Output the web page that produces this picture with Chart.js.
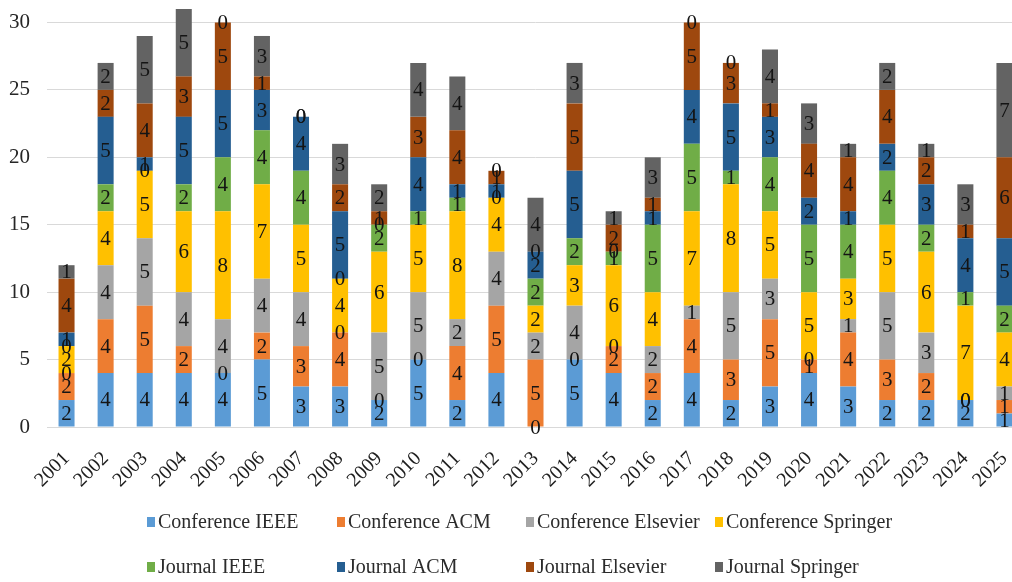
<!DOCTYPE html>
<html>
<head>
<meta charset="utf-8">
<script src="https://cdn.jsdelivr.net/npm/chart.js@4/dist/chart.umd.min.js"></script>
<style>
  html, body { margin: 0; padding: 0; background: #fff; overflow: hidden; }
  #wrap { width: 1024px; height: 582px; }
</style>
</head>
<body>
<div id="wrap"><canvas id="c" width="1024" height="582"></canvas></div>
<script>
// Publications per year, split by venue type and publisher
const years = ['2001','2002','2003','2004','2005','2006','2007','2008','2009','2010','2011','2012','2013',
               '2014','2015','2016','2017','2018','2019','2020','2021','2022','2023','2024','2025'];
const conferenceIEEE      = [2,4,4,4,4,5,3,3,2,5,2,4,0,5,4,2,4,2,3,4,3,2,2,2,1];
const conferenceACM       = [2,4,5,2,0,2,3,4,0,0,4,5,5,0,2,2,4,3,5,1,4,3,2,0,1];
const conferenceElsevier  = [0,4,5,4,4,4,4,0,5,5,2,4,2,4,0,2,1,5,3,0,1,5,3,0,1];
const conferenceSpringer  = [2,4,5,6,8,7,5,4,6,5,8,4,2,3,6,4,7,8,5,5,3,5,6,7,4];
const journalIEEE         = [0,2,0,2,4,4,4,0,2,1,1,0,2,2,1,5,5,1,4,5,4,4,2,1,2];
const journalACM          = [1,5,1,5,5,3,4,5,0,4,1,1,2,5,0,1,4,5,3,2,1,2,3,4,5];
const journalElsevier     = [4,2,4,3,5,1,0,2,1,3,4,1,0,5,2,1,5,3,1,4,4,4,2,1,6];
const journalSpringer     = [1,2,5,5,0,3,0,3,2,4,4,0,4,3,1,3,0,0,4,3,1,2,1,3,7];
const yTicks = [0, 5, 10, 15, 20, 25, 30];

const seriesNames  = ['Conference IEEE','Conference ACM','Conference Elsevier','Conference Springer',
                      'Journal IEEE','Journal ACM','Journal Elsevier','Journal Springer'];
const seriesValues = [conferenceIEEE, conferenceACM, conferenceElsevier, conferenceSpringer,
                      journalIEEE, journalACM, journalElsevier, journalSpringer];
const seriesColors = ['#5B9BD5','#ED7D31','#A5A5A5','#FFC000','#70AD47','#255E91','#9E480E','#636363'];

const SERIF = "'Liberation Serif', 'Times New Roman', serif";

// Value labels centred in every stacked segment (zeros sit on the segment boundary)
const segmentLabels = {
  id: 'segmentLabels',
  afterDatasetsDraw(chart) {
    const ctx = chart.ctx;
    ctx.save();
    ctx.font = '21px ' + SERIF;
    ctx.fillStyle = '#141414';
    ctx.textAlign = 'center';
    ctx.textBaseline = 'middle';
    chart.data.datasets.forEach((ds, di) => {
      const meta = chart.getDatasetMeta(di);
      meta.data.forEach((el, i) => {
        const y = (el.y + el.base) / 2;
        ctx.fillText(String(ds.data[i]), el.x, y + 1);
      });
    });
    ctx.restore();
  }
};

// Legend laid out as a 4-column grid under the axis
const gridLegend = {
  id: 'gridLegend',
  afterDraw(chart) {
    const ctx = chart.ctx;
    const colX = [147, 337, 526, 715];
    const rowY = [522, 567];
    ctx.save();
    ctx.font = '20px ' + SERIF;
    ctx.textBaseline = 'middle';
    ctx.textAlign = 'left';
    chart.data.datasets.forEach((ds, i) => {
      const x = colX[i % 4];
      const y = rowY[Math.floor(i / 4)];
      ctx.fillStyle = ds.backgroundColor;
      ctx.fillRect(x, y - 5, 8, 10);
      ctx.fillStyle = '#2b2b2b';
      ctx.fillText(ds.label, x + 11, y + 1);
    });
    ctx.restore();
  }
};

new Chart(document.getElementById('c'), {
  type: 'bar',
  data: {
    labels: years,
    datasets: seriesNames.map((name, i) => ({
      label: name,
      data: seriesValues[i],
      backgroundColor: seriesColors[i],
      borderWidth: 0,
      barPercentage: 0.41,
      categoryPercentage: 1.0
    }))
  },
  options: {
    responsive: false,
    animation: false,
    layout: { padding: { top: 9, left: 0, right: 0, bottom: 80 } },
    plugins: {
      legend: { display: false },
      tooltip: { enabled: false }
    },
    scales: {
      x: {
        stacked: true,
        grid: { display: false },
        border: { display: false },
        ticks: {
          autoSkip: false,
          minRotation: 45,
          maxRotation: 45,
          padding: 12,
          color: '#1e1e1e',
          font: { family: SERIF, size: 20 }
        },
        afterFit(scale) {
          scale.height = 75;
          scale.paddingLeft = 0;
          scale.paddingRight = 0;
        }
      },
      y: {
        stacked: true,
        min: 0,
        max: 31,
        grid: { color: '#d9d9d9', lineWidth: 1, drawTicks: false },
        border: { display: false },
        ticks: {
          padding: 17,
          color: '#262626',
          font: { family: SERIF, size: 21 }
        },
        afterBuildTicks(scale) {
          scale.ticks = yTicks.map(v => ({ value: v }));
        },
        afterFit(scale) {
          scale.width = 47;
          scale.paddingTop = 0;
          scale.paddingBottom = 0;
        }
      }
    }
  },
  plugins: [segmentLabels, gridLegend]
});
</script>
</body>
</html>
